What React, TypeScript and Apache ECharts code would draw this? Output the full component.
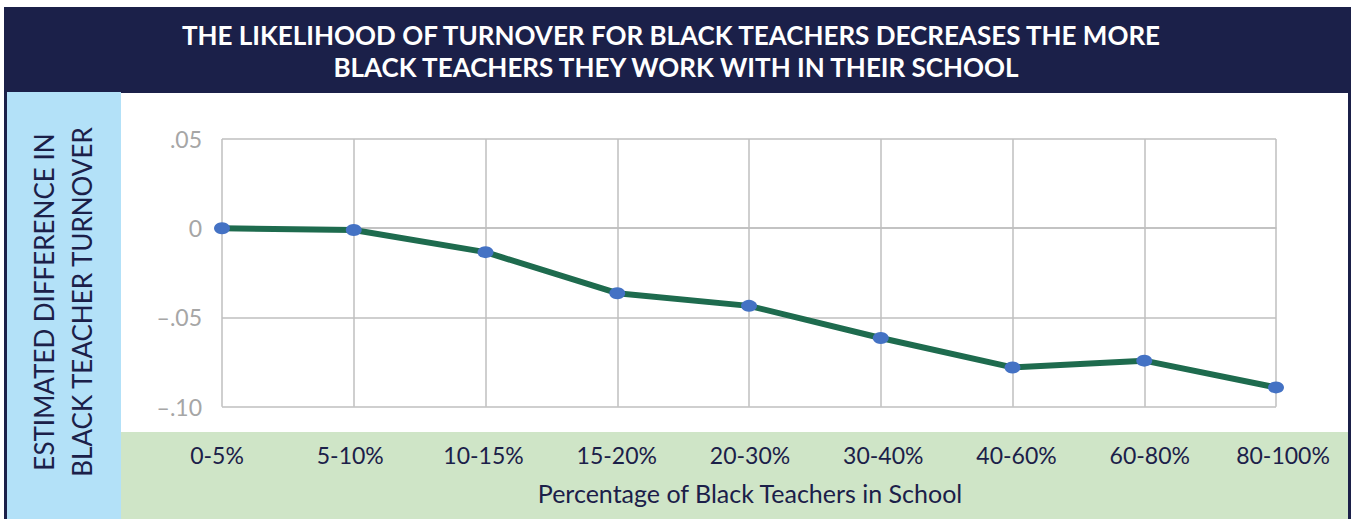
import React, { useEffect, useRef } from "react";
import * as echarts from "echarts";

const categories = ["0-5%", "5-10%", "10-15%", "15-20%", "20-30%", "30-40%", "40-60%", "60-80%", "80-100%"];
const turnoverDiff = [0.0, -0.001, -0.0134, -0.0364, -0.0435, -0.0615, -0.078, -0.0742, -0.0892];
const yTickLabels: Record<string, string> = { "0.05": ".05", "0": "0", "-0.05": "\u2013.05", "-0.1": "\u2013.10" };
const titleLines = ["THE LIKELIHOOD OF TURNOVER FOR BLACK TEACHERS DECREASES THE MORE", "BLACK TEACHERS THEY WORK WITH IN THEIR SCHOOL"];
const yTitleLines = ["ESTIMATED DIFFERENCE IN", "BLACK TEACHER TURNOVER"];
const xTitle = "Percentage of Black Teachers in School";

const NAVY = "#1b2049";
const FONT = "Lato, 'Open Sans', sans-serif";

export default function App() {
  const ref = useRef<HTMLDivElement>(null);
  useEffect(() => {
    if (!ref.current) return;
    const chart = echarts.init(ref.current, undefined, { renderer: "svg" });
    chart.setOption({
      animation: false,
      backgroundColor: "#ffffff",
      graphic: [
        { type: "rect", z: -10, shape: { x: 4, y: 7, width: 1347, height: 86 }, style: { fill: NAVY } },
        { type: "rect", z: -10, shape: { x: 4, y: 92, width: 3, height: 427 }, style: { fill: NAVY } },
        { type: "rect", z: -10, shape: { x: 1348, y: 92, width: 3, height: 427 }, style: { fill: NAVY } },
        { type: "rect", z: -10, shape: { x: 7, y: 92, width: 114, height: 427 }, style: { fill: "#b3e1f8" } },
        { type: "rect", z: -10, shape: { x: 121, y: 432, width: 1227, height: 87 }, style: { fill: "#cfe5c7" } },
        {
          type: "text", x: 671, y: 35,
          style: { text: titleLines[0], fill: "#ffffff", font: `bold 26px ${FONT}`, align: "center", verticalAlign: "middle" },
        },
        {
          type: "text", x: 676, y: 67,
          style: { text: titleLines[1], fill: "#ffffff", font: `bold 26px ${FONT}`, align: "center", verticalAlign: "middle" },
        },
        {
          type: "text", x: 44, y: 302, rotation: Math.PI / 2,
          style: { text: yTitleLines[0], fill: NAVY, font: `26px ${FONT}`, align: "center", verticalAlign: "middle" },
        },
        {
          type: "text", x: 82, y: 302, rotation: Math.PI / 2,
          style: { text: yTitleLines[1], fill: NAVY, font: `26px ${FONT}`, align: "center", verticalAlign: "middle" },
        },
      ],
      grid: [
        { left: 222, right: 75, top: 139, bottom: 112.3 },
        { left: 217, right: 68, top: 139, bottom: 112.3 },
      ],
      xAxis: [
        {
          type: "category",
          gridIndex: 0,
          data: categories,
          boundaryGap: false,
          axisLine: { show: true, lineStyle: { color: "#bfbfbf", width: 1.5 } },
          axisTick: { show: false },
          axisLabel: { show: false },
          splitLine: { show: true, lineStyle: { color: "#bfbfbf", width: 1.5 } },
        },
        {
          type: "category",
          gridIndex: 1,
          data: categories,
          boundaryGap: false,
          axisLine: { show: false },
          axisTick: { show: false },
          splitLine: { show: false },
          axisLabel: { color: NAVY, fontSize: 23, fontFamily: FONT, margin: 37, interval: 0 },
          name: xTitle,
          nameLocation: "middle",
          nameGap: 74,
          nameTextStyle: { color: NAVY, fontSize: 25, fontFamily: FONT },
        },
      ],
      yAxis: [
        {
          type: "value",
          gridIndex: 0,
          min: -0.1,
          max: 0.05,
          interval: 0.05,
          axisLine: { show: false },
          axisTick: { show: false },
          splitLine: { show: true, lineStyle: { color: "#bfbfbf", width: 1.5 } },
          axisLabel: {
            color: "#a6a6a6",
            fontSize: 23,
            fontFamily: FONT,
            margin: 20,
            formatter: (v: number) => yTickLabels[String(Math.round(v * 100) / 100)] ?? String(v),
          },
        },
        { type: "value", gridIndex: 1, show: false, min: -0.1, max: 0.05 },
      ],
      series: [
        {
          type: "line",
          xAxisIndex: 0,
          yAxisIndex: 0,
          data: turnoverDiff,
          lineStyle: { color: "#1e6b4e", width: 6 },
          symbol: "circle",
          symbolSize: [16, 12],
          itemStyle: { color: "#4472c4" },
          z: 5,
        },
      ],
    });
    return () => chart.dispose();
  }, []);
  return <div ref={ref} style={{ position: "fixed", left: 0, top: 0, width: 1351, height: 519 }} />;
}
